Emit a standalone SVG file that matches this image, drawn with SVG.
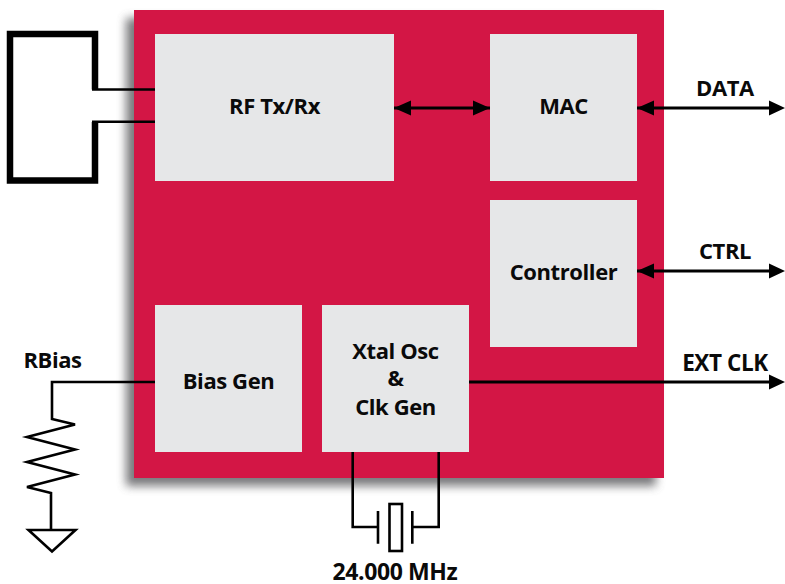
<svg xmlns="http://www.w3.org/2000/svg" width="785" height="584" viewBox="0 0 785 584">
<style>
.block{fill:#e6e7e8}
.t{font-family:"Open Sans","Noto Sans","Liberation Sans",sans-serif;font-weight:700;font-size:22px;fill:#0a0a0a;text-anchor:middle;letter-spacing:-0.4px}
.w{fill:none;stroke:#000;stroke-width:2.6}
.a{fill:none;stroke:#000;stroke-width:3}
.h{fill:#000}
</style>
<defs>
<filter id="blur" x="-10%" y="-10%" width="120%" height="120%"><feGaussianBlur stdDeviation="5"/></filter>
</defs>
<rect width="785" height="584" fill="#fff"/>
<g id="chip">
<rect x="126" y="18" width="530" height="468" fill="#58595b" opacity="0.8" filter="url(#blur)"/>
<rect x="134" y="10" width="530" height="468" fill="#d31645"/>
</g>
<g id="connectors">
<path class="w" d="M92 89.500H155M92 121.700H155"/>
<path d="M95 89.500V34H10V180.500H95V122" fill="none" stroke="#000" stroke-width="6.500"/>
<path class="a" d="M394 108H490M637 108H772M637 271H772M469 382H772"/>
<path class="h" d="M394 108L411 100.500V115.500ZM490 108L473 100.500V115.500ZM637 108L654 100.500V115.500ZM785 108L769 100.500V115.500ZM637 271L654 263.500V278.500ZM785 271L769 263.500V278.500ZM785 382L769 374.500V389.500Z"/>
<path class="w" d="M155 382H52V419L75 424.500L27 437L75 449.500L27 462L75 474.500L27 487L51 493V530"/>
<path class="w" d="M28.500 530H75.500L52 551.500Z"/>
<path class="w" d="M352.700 452V527H378M378 511V543.700M412.300 511V543.700M412.300 527H438.700V452"/>
<rect class="w" x="389.500" y="504" width="12.500" height="47"/>
</g>
<g id="rf"><rect class="block" x="155" y="34" width="239" height="147"/><text class="t" x="274.500" y="114">RF Tx/Rx</text></g>
<g id="mac"><rect class="block" x="490" y="34" width="147" height="147"/><text class="t" x="563.500" y="114">MAC</text></g>
<g id="controller"><rect class="block" x="490" y="200" width="147" height="147"/><text class="t" x="563.500" y="280">Controller</text></g>
<g id="biasgen"><rect class="block" x="155" y="305" width="147" height="147"/><text class="t" x="228.500" y="389">Bias Gen</text></g>
<g id="xtal"><rect class="block" x="322" y="305" width="147" height="147"/>
<text class="t" x="395.500" y="359">Xtal Osc</text><text class="t" x="395.500" y="386">&amp;</text><text class="t" x="395.500" y="415">Clk Gen</text></g>
<g id="labels">
<text class="t" x="725" y="96">DATA</text>
<text class="t" x="725" y="259">CTRL</text>
<text class="t" x="725" y="371" style="font-size:22.500px">EXT CLK</text>
<text class="t" x="52.500" y="368">RBias</text>
<text class="t" x="395" y="580" style="font-size:23px">24.000 MHz</text>
</g>
</svg>
